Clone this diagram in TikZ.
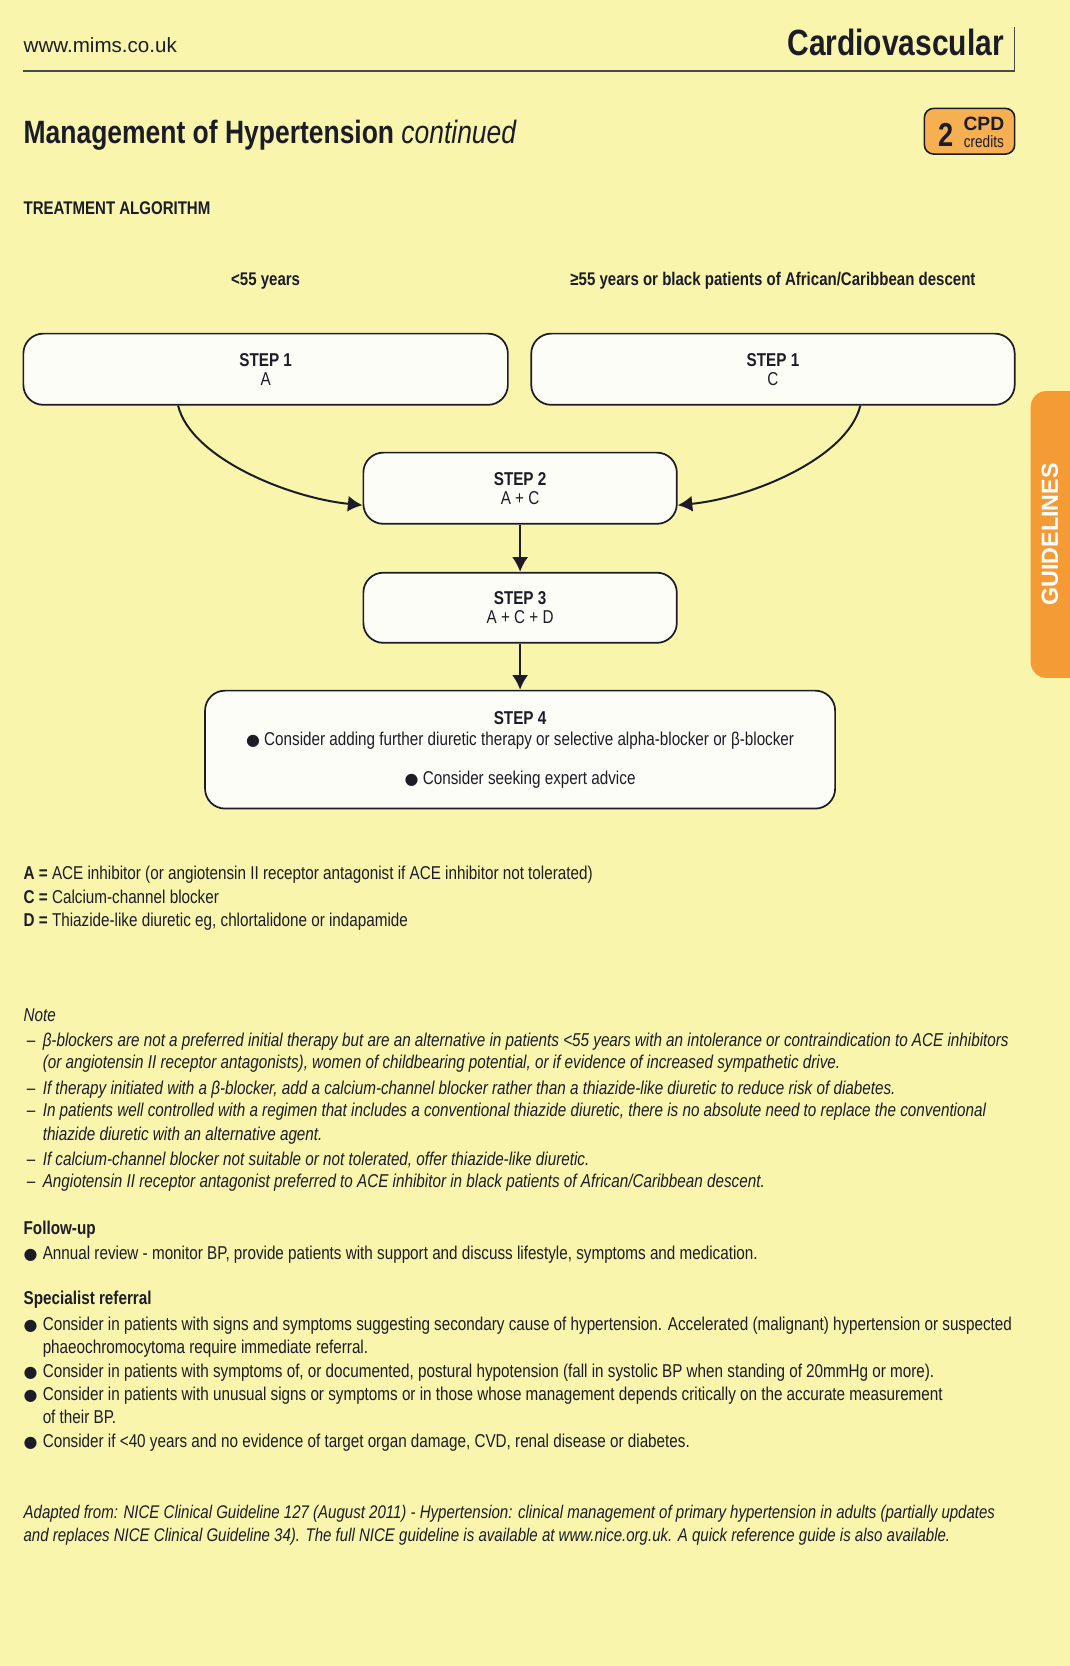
\documentclass[tikz,border=0pt]{standalone}
\usepackage{fontspec}
\setmainfont{Liberation Sans}[FakeStretch=0.82]
\newfontfamily\anchafont{Liberation Sans}
\newfontfamily\simbolo{DejaVu Sans}
\usepackage{xcolor}
\usetikzlibrary{shapes,arrows.meta,positioning,calc}

\definecolor{papel}{RGB}{249,245,172}
\definecolor{tinta}{RGB}{28,28,40}
\definecolor{naranja}{RGB}{244,155,54}
\definecolor{insignia}{RGB}{246,176,82}
\definecolor{cajafondo}{RGB}{253,253,247}

\newcommand{\tam}[1]{\fontsize{#1}{#1}\selectfont}
\newcommand{\punto}{{\simbolo\fontsize{12}{14}\selectfont ●}}

\begin{document}
\begin{tikzpicture}[x=0.8pt, y=-0.8pt]
  \tikzstyle{txt}=[anchor=base west, inner sep=0pt, text=tinta, font=\tam{14}]
  \tikzstyle{paso}=[rectangle, draw=tinta, line width=1.3pt, rounded corners=15pt, fill=cajafondo, text=tinta, align=center, font=\fontsize{14}{14.4}\selectfont, inner sep=0pt]
  \tikzstyle{flecha}=[-{Latex[length=11pt,width=12pt]}, line width=1.5pt, draw=tinta]

  % Fondo
  \fill[papel] (0,0) rectangle (1007,1568);
  \useasboundingbox (0,0) rectangle (1007,1568);

  % Cabecera
  \node[txt, font=\anchafont\tam{15.5}] (web) at (22,49) {www.mims.co.uk};
  \node[txt, anchor=base east, font=\bfseries\tam{27.5}] (cardio) at (945,52) {Cardiovascular};
  \draw[tinta!80, line width=1.1pt] (22,67) -- (955,67) -- (955,25);

  \node[txt, font=\bfseries\tam{24.3}] (titulo) at (22,135) {Management of Hypertension};
  \node[txt, font=\itshape\tam{24.3}] (cont) at ([xshift=5pt]titulo.base east) {continued};

  % Insignia CPD
  \node[rectangle, draw=tinta, line width=1.2pt, fill=insignia, rounded corners=7pt, minimum width=85*0.8pt, minimum height=43*0.8pt] (cpd) at (912.5,123.5) {};
  \node[font=\bfseries\tam{25}, text=tinta, inner sep=0pt] (cpd2) at (890,127) {2};
  \node[font=\anchafont\bfseries\tam{14.5}, text=tinta, inner sep=0pt] (cpdtxt) at (926,117) {CPD};
  \node[font=\tam{12.5}, text=tinta, inner sep=0pt] (cpdcred) at (926,133) {credits};

  % Pestana lateral
  \fill[naranja, rounded corners=12pt] (970,368) rectangle (1030,638);
  \node[rotate=90, font=\anchafont\bfseries\tam{17.5}, text=white] (guias) at (988,503) {GUIDELINES};

  % Algoritmo
  \node[txt, font=\bfseries\tam{13.8}] (algoritmo) at (22,202) {TREATMENT ALGORITHM};
  \node[txt, anchor=base, font=\bfseries\tam{13.8}] (menor) at (250,269) {<55 years};
  \node[txt, anchor=base, font=\bfseries\tam{13.8}] (mayor) at (727.5,269) {≥55 years or black patients of African/Caribbean descent};

  \node[paso, minimum width=456*0.8pt, minimum height=67*0.8pt] (p1a) at (250,347.5) {\textbf{STEP 1}\\A};
  \node[paso, minimum width=455*0.8pt, minimum height=67*0.8pt] (p1c) at (727.5,347.5) {\textbf{STEP 1}\\C};
  \node[paso, minimum width=295*0.8pt, minimum height=67*0.8pt] (p2) at (489.5,459.5) {\textbf{STEP 2}\\A + C};
  \node[paso, minimum width=295*0.8pt, minimum height=66*0.8pt] (p3) at (489.5,572) {\textbf{STEP 3}\\A + C + D};
  \node[paso, minimum width=593*0.8pt, minimum height=111*0.8pt] (p4) at (489.5,705.5) {\textbf{STEP 4}\\[1.6pt]\punto\ Consider adding further diuretic therapy or selective alpha-blocker or β-blocker\\[15pt]\punto\ Consider seeking expert advice};

  \draw[flecha] ($(p1a.south west)!0.32!(p1a.south east)$) .. controls +(12,49) and +(-70,-7) .. ($(p2.west)+(0,16)$);
  \draw[flecha] ($(p1c.south west)!0.68!(p1c.south east)$) .. controls +(-12,49) and +(70,-7) .. ($(p2.east)+(0,16)$);
  \draw[flecha] (p2.south) -- (p3.north);
  \draw[flecha] (p3.south) -- (p4.north);

  % Leyenda
  \node[txt] (leyA) at (22,828) {\textbf{A =} ACE inhibitor (or angiotensin II receptor antagonist if ACE inhibitor not tolerated)};
  \node[txt] (leyC) at (22,850) {\textbf{C =} Calcium-channel blocker};
  \node[txt] (leyD) at (22,872) {\textbf{D =} Thiazide-like diuretic eg, chlortalidone or indapamide};

  % Notas
  \tikzstyle{nota}=[txt, font=\itshape\tam{14}]
  \node[nota] (nota) at (22,961) {Note};
  \node[txt] (g1) at (25,985) {–};
  \node[nota] (n1) at (40,985) {β-blockers are not a preferred initial therapy but are an alternative in patients <55 years with an intolerance or contraindication to ACE inhibitors};
  \node[nota] (n1b) at (40,1006) {(or angiotensin II receptor antagonists), women of childbearing potential, or if evidence of increased sympathetic drive.};
  \node[txt] (g2) at (25,1030) {–};
  \node[nota] (n2) at (40,1030) {If therapy initiated with a β-blocker, add a calcium-channel blocker rather than a thiazide-like diuretic to reduce risk of diabetes.};
  \node[txt] (g3) at (25,1051) {–};
  \node[nota] (n3) at (40,1051) {In patients well controlled with a regimen that includes a conventional thiazide diuretic, there is no absolute need to replace the conventional};
  \node[nota] (n3b) at (40,1073) {thiazide diuretic with an alternative agent.};
  \node[txt] (g4) at (25,1097) {–};
  \node[nota] (n4) at (40,1097) {If calcium-channel blocker not suitable or not tolerated, offer thiazide-like diuretic.};
  \node[txt] (g5) at (25,1118) {–};
  \node[nota] (n5) at (40,1118) {Angiotensin II receptor antagonist preferred to ACE inhibitor in black patients of African/Caribbean descent.};

  % Seguimiento
  \node[txt, font=\bfseries\tam{14}] (seg) at (22,1162) {Follow-up};
  \node[txt] (s0) at (22,1185) {\punto};
  \node[txt] (s1) at (40,1185) {Annual review - monitor BP, provide patients with support and discuss lifestyle, symptoms and medication.};

  % Derivacion
  \node[txt, font=\bfseries\tam{14}] (der) at (22,1228) {Specialist referral};
  \node[txt] (d0) at (22,1252) {\punto};
  \node[txt] (d1) at (40,1252) {Consider in patients with signs and symptoms suggesting secondary cause of hypertension. Accelerated (malignant) hypertension or suspected};
  \node[txt] (d1b) at (40,1274) {phaeochromocytoma require immediate referral.};
  \node[txt] (e0) at (22,1296) {\punto};
  \node[txt] (d2) at (40,1296) {Consider in patients with symptoms of, or documented, postural hypotension (fall in systolic BP when standing of 20mmHg or more).};
  \node[txt] (f0) at (22,1318) {\punto};
  \node[txt] (d3) at (40,1318) {Consider in patients with unusual signs or symptoms or in those whose management depends critically on the accurate measurement};
  \node[txt] (d3b) at (40,1340) {of their BP.};
  \node[txt] (h0) at (22,1362) {\punto};
  \node[txt] (d4) at (40,1362) {Consider if <40 years and no evidence of target organ damage, CVD, renal disease or diabetes.};

  % Fuente
  \node[nota, font=\itshape\tam{13.8}] (fuente1) at (22,1429) {Adapted from: NICE Clinical Guideline 127 (August 2011) - Hypertension: clinical management of primary hypertension in adults (partially updates};
  \node[nota, font=\itshape\tam{13.8}] (fuente2) at (22,1451) {and replaces NICE Clinical Guideline 34). The full NICE guideline is available at www.nice.org.uk. A quick reference guide is also available.};
\end{tikzpicture}
\end{document}
